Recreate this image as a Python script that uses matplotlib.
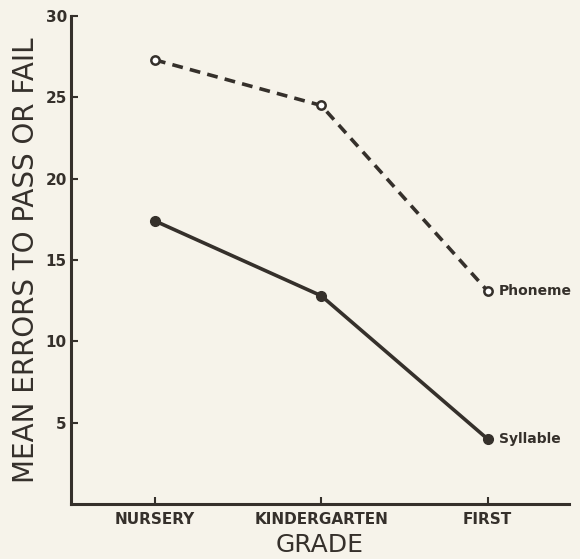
import matplotlib.pyplot as plt

grades = ['NURSERY', 'KINDERGARTEN', 'FIRST']
phoneme = [27.3, 24.5, 13.1]
syllable = [17.4, 12.8, 4.0]
yticks = [5, 10, 15, 20, 25, 30]

ink = '#35302b'
paper = '#f6f3ea'

fig = plt.figure(figsize=(5.8, 5.59), dpi=100, facecolor=paper)
ax = fig.add_axes([0.1224, 0.0984, 0.8586, 0.873])
ax.set_facecolor(paper)

x = list(range(len(grades)))
ax.plot(x, phoneme, '--', color=ink, linewidth=2.6, dashes=(3, 2),
        marker='o', markersize=6, markerfacecolor='white', markeredgewidth=1.8)
ax.plot(x, syllable, '-', color=ink, linewidth=2.6,
        marker='o', markersize=7, markerfacecolor=ink)

ax.text(x[-1] + 0.07, phoneme[-1], 'Phoneme', color=ink, fontsize=10,
        fontweight='bold', va='center', ha='left')
ax.text(x[-1] + 0.07, syllable[-1], 'Syllable', color=ink, fontsize=10,
        fontweight='bold', va='center', ha='left')

ax.set_xlim(-0.505, 2.49)
ax.set_ylim(0, 30)
ax.set_xticks(x)
ax.set_xticklabels(grades, fontsize=11, fontweight='bold', color=ink)
ax.set_yticks(yticks)
ax.set_yticklabels([str(v) for v in yticks], fontsize=11, fontweight='bold', color=ink)
ax.tick_params(direction='in', length=5, width=1.5, color=ink, pad=6)
ax.tick_params(axis='y', pad=3)

for s in ['top', 'right']:
    ax.spines[s].set_visible(False)
for s in ['left', 'bottom']:
    ax.spines[s].set_color(ink)
    ax.spines[s].set_linewidth(2.2)

ax.set_ylabel('MEAN ERRORS TO PASS OR FAIL', fontsize=20, color=ink, labelpad=4)
ax.set_xlabel('GRADE', fontsize=18, color=ink, labelpad=4)

fig.savefig('out.png', dpi=100, facecolor=paper)
